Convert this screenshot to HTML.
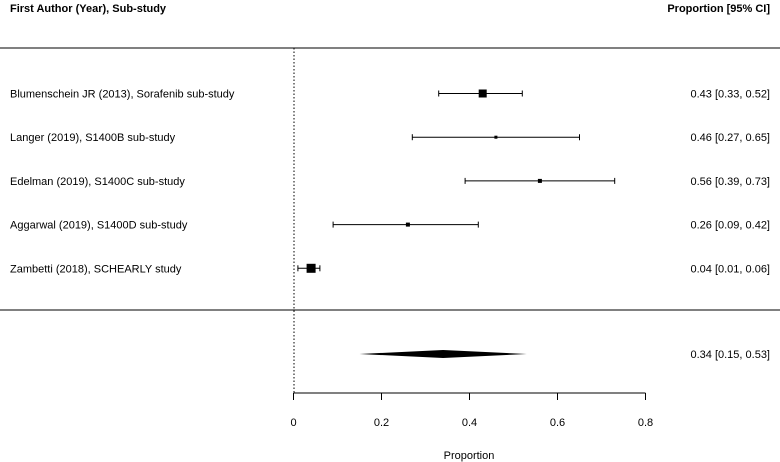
<!DOCTYPE html>
<html><head><meta charset="utf-8"><style>
body{margin:0;background:#fff}
svg{display:block;font-family:"Liberation Sans",Arial,sans-serif}
</style></head><body>
<svg id="c" width="780" height="462" viewBox="0 0 780 462">
<text x="10" y="12" font-size="11" font-weight="bold">First Author (Year), Sub‑study</text>
<text x="770" y="12" font-size="11" font-weight="bold" text-anchor="end">Proportion [95% CI]</text>
<line x1="0" x2="780" y1="48" y2="48" stroke="#000"/>
<line x1="0" x2="780" y1="310" y2="310" stroke="#000"/>
<line x1="294" x2="294" y1="48" y2="393" stroke="#000" stroke-dasharray="1.5,2"/>
<g id="rows"></g>
<g id="axis"></g>
<text x="469" y="459" font-size="11" text-anchor="middle">Proportion</text>
</svg>
<script>
const studies=["Blumenschein JR (2013), Sorafenib sub‑study","Langer (2019), S1400B sub‑study","Edelman (2019), S1400C sub‑study","Aggarwal (2019), S1400D sub‑study","Zambetti (2018), SCHEARLY study"];
const est=[0.43,0.46,0.56,0.26,0.04];
const lo=[0.33,0.27,0.39,0.09,0.01];
const hi=[0.52,0.65,0.73,0.42,0.06];
const boxSize=[8,3,4,4,9];
const pooled=[0.34,0.15,0.53];
const ticks=[0,0.2,0.4,0.6,0.8];
const NS="http://www.w3.org/2000/svg";
const X=v=>293.5+v*440;
const rowY=i=>93.5+i*43.7;
function mk(t,a,p){const e=document.createElementNS(NS,t);for(const k in a)e.setAttribute(k,a[k]);p.appendChild(e);return e;}
const rows=document.getElementById('rows');
studies.forEach((s,i)=>{
 const y=rowY(i);
 const g=mk('g',{},rows);
 
 
 const t=mk('text',{x:10,y:y+4,'font-size':11},g);t.textContent=s;
 
 
 const l=mk('line',{x1:X(lo[i]),x2:X(hi[i]),y1:y,y2:y,stroke:'#000'},g);
 
 
 [lo[i],hi[i]].forEach(v=>{const c=mk('line',{x1:X(v),x2:X(v),y1:y-3,y2:y+3,stroke:'#000'},g);
  
  });
 const b=boxSize[i];
 const r=mk('rect',{x:X(est[i])-b/2,y:y-b/2,width:b,height:b,fill:'#000'},g);
 
 
 const v=mk('text',{x:770,y:y+4,'font-size':11,'text-anchor':'end'},g);
 v.textContent=est[i].toFixed(2)+" ["+lo[i].toFixed(2)+", "+hi[i].toFixed(2)+"]";
 
 
});
const dy=354;
const d=mk('polygon',{points:`${X(pooled[1])},${dy} ${X(pooled[0])},${dy-4} ${X(pooled[2])},${dy} ${X(pooled[0])},${dy+4}`,fill:'#000'},rows);


const pt=mk('text',{x:770,y:dy+4,'font-size':11,'text-anchor':'end'},rows);
pt.textContent=pooled[0].toFixed(2)+" ["+pooled[1].toFixed(2)+", "+pooled[2].toFixed(2)+"]";


const ax=document.getElementById('axis');
const al=mk('line',{x1:X(ticks[0]),x2:X(ticks[ticks.length-1]),y1:393,y2:393,stroke:'#000'},ax);


ticks.forEach(t=>{
 const k=mk('line',{x1:X(t),x2:X(t),y1:393,y2:400,stroke:'#000'},ax);
 
 
 const tl=mk('text',{x:X(t),y:426,'font-size':11,'text-anchor':'middle'},ax);tl.textContent=String(t);
 
 
});
</script>
</body></html>
